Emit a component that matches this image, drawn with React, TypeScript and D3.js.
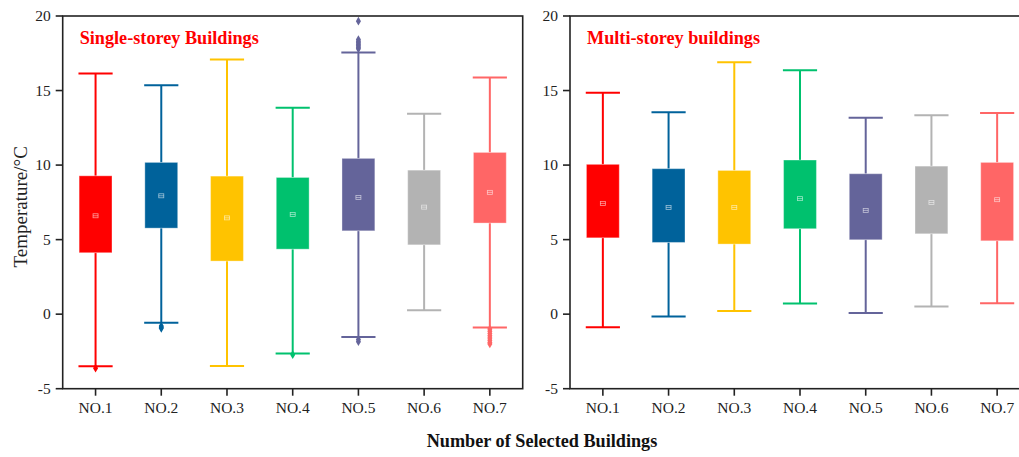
import React from "react";
import * as d3 from "d3";

// Building labels
const categories = ["NO.1", "NO.2", "NO.3", "NO.4", "NO.5", "NO.6", "NO.7"];
const colors = ["#ff0000", "#00629b", "#ffc300", "#00c16e", "#64649a", "#b3b3b3", "#ff6666"];
const yTicks = [-5, 0, 5, 10, 15, 20];

// Single-storey buildings: whisker low, Q1, Q3, whisker high, mean
const singleLow = [-3.5, -0.58, -3.47, -2.64, -1.54, 0.27, -0.89];
const singleQ1 = [4.12, 5.77, 3.56, 4.36, 5.59, 4.65, 6.11];
const singleQ3 = [9.28, 10.18, 9.26, 9.17, 10.45, 9.66, 10.85];
const singleHigh = [16.15, 15.35, 17.09, 13.85, 17.56, 13.44, 15.88];
const singleMean = [6.6, 7.94, 6.46, 6.69, 7.82, 7.18, 8.17];
const singleOutliers: number[][] = [
  [-3.62],
  [-0.8, -0.88, -0.95],
  [],
  [-2.72],
  [17.8, 17.9, 18.0, 18.1, 18.2, 18.3, 18.42, 19.65, -1.7, -1.85],
  [],
  [-1.0, -1.15, -1.3, -1.45, -1.6, -1.75, -1.9, -2.0],
];

// Multi-storey buildings
const multiLow = [-0.87, -0.15, 0.22, 0.72, 0.07, 0.52, 0.74];
const multiQ1 = [5.12, 4.81, 4.7, 5.73, 4.99, 5.39, 4.92];
const multiQ3 = [10.05, 9.76, 9.64, 10.34, 9.42, 9.93, 10.18];
const multiHigh = [14.85, 13.54, 16.89, 16.36, 13.18, 13.34, 13.49];
const multiMean = [7.43, 7.16, 7.16, 7.75, 6.96, 7.49, 7.68];
const multiOutliers: number[][] = [[], [], [], [], [], [], []];

const W = 1019;
const H = 457;
const top = 16;
const bottom = 388.7;
const plotW = 460;
const serif: React.CSSProperties = { fontFamily: '"Liberation Serif", "Times New Roman", Times, serif' };

type PanelProps = {
  left: number;
  title: string;
  low: number[];
  q1: number[];
  q3: number[];
  high: number[];
  mean: number[];
  outliers: number[][];
};

const y = d3.scaleLinear().domain([-5, 20]).range([bottom, top]);
const diamond = d3.symbol().type(d3.symbolDiamond).size(22);

function Panel({ left, title, low, q1, q3, high, mean, outliers }: PanelProps) {
  const x = d3.scaleBand<string>().domain(categories).range([left, left + plotW]).padding(0);
  const bw = x.bandwidth();
  const boxW = bw * 0.5;
  const capW = bw * 0.26;
  return (
    <g>
      {categories.map((c, i) => {
        const cx = (x(c) as number) + bw / 2;
        const col = colors[i];
        const my = y(mean[i]);
        return (
          <g key={c}>
            <line x1={cx} x2={cx} y1={y(high[i])} y2={y(q3[i])} stroke={col} strokeWidth={2} />
            <line x1={cx} x2={cx} y1={y(q1[i])} y2={y(low[i])} stroke={col} strokeWidth={2} />
            <line x1={cx - capW} x2={cx + capW} y1={y(high[i])} y2={y(high[i])} stroke={col} strokeWidth={2} />
            <line x1={cx - capW} x2={cx + capW} y1={y(low[i])} y2={y(low[i])} stroke={col} strokeWidth={2} />
            {outliers[i].map((o, k) => (
              <path key={k} d={diamond() as string} transform={`translate(${cx},${y(o)})`} fill={col} />
            ))}
            <rect
              x={cx - boxW / 2}
              y={y(q3[i])}
              width={boxW}
              height={y(q1[i]) - y(q3[i])}
              fill={col}
              stroke="#ffffff"
              strokeOpacity={0.35}
              strokeWidth={1}
            />
            <rect x={cx - 2.5} y={my - 2} width={5} height={4} fill="none" stroke="#ffffff" strokeOpacity={0.6} strokeWidth={0.8} />
            <line x1={cx - 2.5} x2={cx + 2.5} y1={my} y2={my} stroke="#ffffff" strokeOpacity={0.6} strokeWidth={0.8} />
          </g>
        );
      })}
      {/* frame */}
      <rect x={left} y={top} width={plotW} height={bottom - top} fill="none" stroke="#222" strokeWidth={1.6} />
      {yTicks.map((t) => (
        <g key={t}>
          <line x1={left - 7} x2={left} y1={y(t)} y2={y(t)} stroke="#222" strokeWidth={1.6} />
          <text x={left - 12} y={y(t)} dy="0.34em" textAnchor="end" fontSize={15.5} style={serif} fill="#222">
            {t}
          </text>
        </g>
      ))}
      {categories.map((c) => {
        const cx = (x(c) as number) + bw / 2;
        return (
          <g key={c}>
            <line x1={cx} x2={cx} y1={bottom} y2={bottom + 7} stroke="#222" strokeWidth={1.6} />
            <text x={cx} y={413} textAnchor="middle" fontSize={15.5} style={serif} fill="#222">
              {c}
            </text>
          </g>
        );
      })}
      <text x={left + 17} y={44} fontSize={18.2} fontWeight="bold" style={serif} fill="#ff0000">
        {title}
      </text>
    </g>
  );
}

export default function App() {
  return (
    <svg
      width={W}
      height={H}
      viewBox={`0 0 ${W} ${H}`}
      style={{ position: "absolute", left: 0, top: 0, background: "#fff" }}
    >
      <Panel
        left={62.7}
        title="Single-storey Buildings"
        low={singleLow}
        q1={singleQ1}
        q3={singleQ3}
        high={singleHigh}
        mean={singleMean}
        outliers={singleOutliers}
      />
      <Panel
        left={570}
        title="Multi-storey buildings"
        low={multiLow}
        q1={multiQ1}
        q3={multiQ3}
        high={multiHigh}
        mean={multiMean}
        outliers={multiOutliers}
      />
      <text
        transform={`translate(27,${y(7.2)}) rotate(-90)`}
        textAnchor="middle"
        fontSize={19}
        style={serif}
        fill="#222"
      >
        Temperature/°C
      </text>
      <text x={542} y={447} textAnchor="middle" fontSize={18.2} fontWeight="bold" style={serif} fill="#111">
        Number of Selected Buildings
      </text>
    </svg>
  );
}
